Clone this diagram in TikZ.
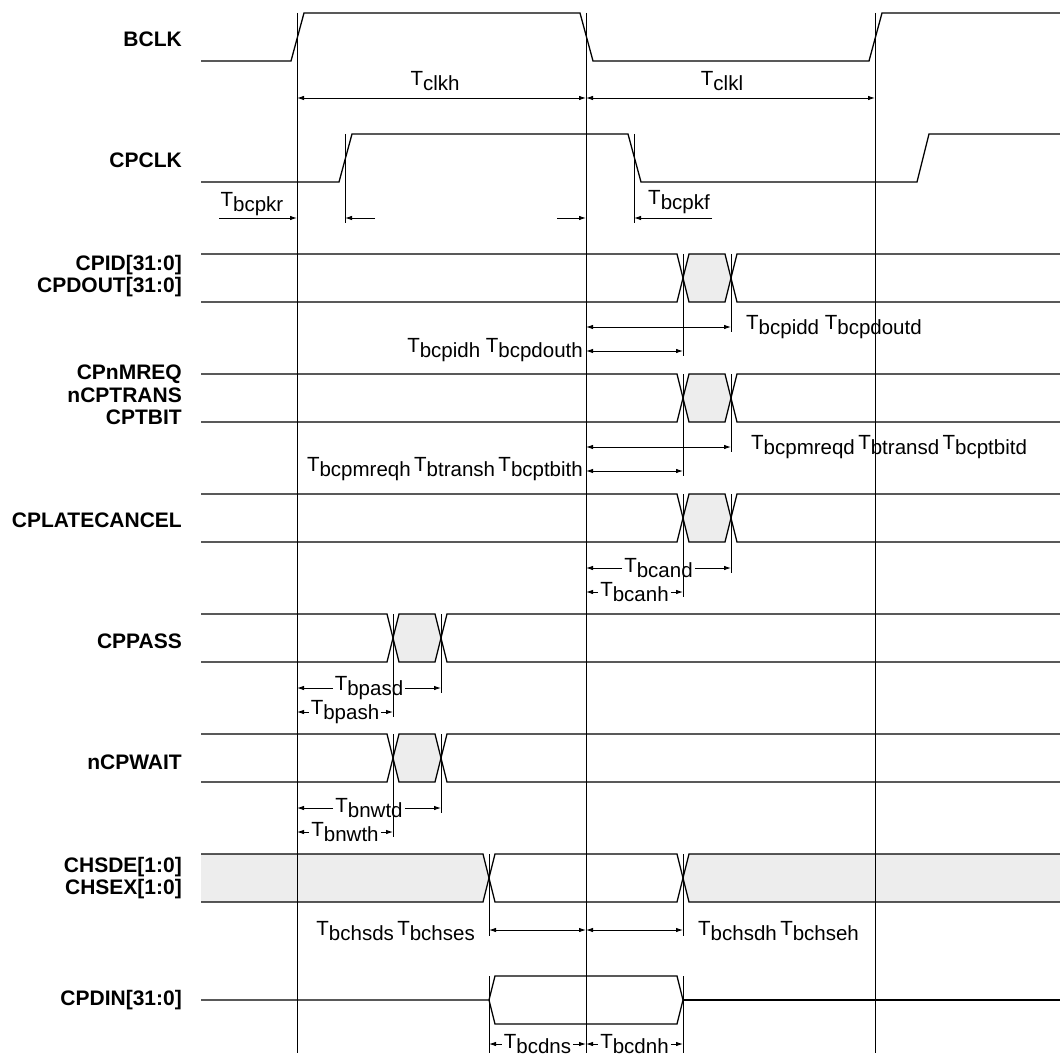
\documentclass[tikz,border=0pt]{standalone}
\usepackage{fontspec}
\setmainfont{Liberation Sans}
\usetikzlibrary{arrows.meta}

% timing symbol: T with lowered suffix
\newcommand{\tsym}[1]{T\raisebox{-5pt}{#1}}
% bus row: top edge y, first and second crossing x
\newcommand{\busrow}[3]{%
  \fill[busfill] (#2,#1+24) -- (#2+6,#1) -- (#3-6,#1) -- (#3,#1+24) -- (#3-6,#1+48) -- (#2+6,#1+48) -- cycle;
  \draw[wave] (201,#1) -- (#2-6,#1) -- (#2+6,#1+48) -- (#3-6,#1+48) -- (#3+6,#1) -- (1060,#1);
  \draw[wave] (201,#1+48) -- (#2-6,#1+48) -- (#2+6,#1) -- (#3-6,#1) -- (#3+6,#1+48) -- (1060,#1+48);
}
% dimension with the label sitting in the line
\newcommand{\splitdim}[5]{%
  \node[tlab] (#4) at ({(#1+#2)/2},#3) {\tsym{#5}};
  \draw[ar] (#4.west) -- (#1,#3);
  \draw[ar] (#4.east) -- (#2,#3);
}

\begin{document}
\begin{tikzpicture}[x=1pt, y=-1pt,
  wave/.style={line width=1.3pt},
  guide/.style={line width=1pt},
  dim/.style={line width=0.9pt, {Latex[length=7pt,width=4.5pt]}-{Latex[length=7pt,width=4.5pt]}},
  ar/.style={line width=0.9pt, -{Latex[length=7pt,width=4.5pt]}},
  sig/.style={anchor=east, align=right, inner sep=0pt, font=\bfseries\fontsize{21}{22.5}\selectfont},
  tlab/.style={inner sep=2pt, font=\fontsize{20.5}{22}\selectfont},
  busfill/.style={fill=gray!14}
]
\useasboundingbox (0,0) rectangle (1060,1059);

% signal names
\node[sig] (bclk) at (182,39) {BCLK};
\node[sig] (cpclk) at (182,160) {CPCLK};
\node[sig] (cpid) at (182,276) {CPID[31:0]\\CPDOUT[31:0]};
\node[sig] (cpmreq) at (182,395) {CPnMREQ\\nCPTRANS\\CPTBIT};
\node[sig] (late) at (182,520) {CPLATECANCEL};
\node[sig] (pass) at (182,641) {CPPASS};
\node[sig] (wait) at (182,762) {nCPWAIT};
\node[sig] (chs) at (182,878) {CHSDE[1:0]\\CHSEX[1:0]};
\node[sig] (din) at (182,1000) {CPDIN[31:0]};

% clocks
\draw[wave] (201,61) -- (291,61) -- (304,13) -- (580,13) -- (593,61) -- (869,61) -- (882,13) -- (1060,13);
\draw[wave] (201,182) -- (339,182) -- (352,134) -- (628,134) -- (641,182) -- (917,182) -- (929,134) -- (1060,134);

% busses
\foreach \y/\a/\b in {254/683/731, 374/683/731, 494/683/731, 614/393/441, 734/393/441}
  {\busrow{\y}{\a}{\b}}

% CHSDE / CHSEX
\fill[busfill] (201,854) -- (483,854) -- (489,878) -- (483,902) -- (201,902) -- cycle;
\fill[busfill] (1060,854) -- (689,854) -- (683,878) -- (689,902) -- (1060,902) -- cycle;
\draw[wave] (201,854) -- (483,854) -- (495,902) -- (677,902) -- (689,854) -- (1060,854);
\draw[wave] (201,902) -- (483,902) -- (495,854) -- (677,854) -- (689,902) -- (1060,902);

% CPDIN
\draw[wave] (201,1000) -- (489,1000) -- (495,976) -- (677,976) -- (683,1000) -- (677,1024) -- (495,1024) -- (489,1000);
\draw[wave] (683,1000) -- (1060,1000);

% clock edges
\foreach \x in {297,586,875}
  \draw[guide] (\x,13) -- (\x,1053);

% clock periods
\draw[dim] (297,98) -- (586,98);
\draw[dim] (586,98) -- (875,98);
\node[tlab] (clkh) at (435,81) {\tsym{clkh}};
\node[tlab] (clkl) at (722,81) {\tsym{clkl}};

% CPCLK skew
\draw[guide] (345,134) -- (345,223);
\draw[guide] (634,134) -- (634,223);
\draw[ar] (219,218) -- (297,218);
\draw[ar] (375,218) -- (345,218);
\draw[ar] (557,218) -- (586,218);
\draw[ar] (712,218) -- (634,218);
\node[tlab] (bcpkr) at (252,204) {\tsym{bcpkr}};
\node[tlab] (bcpkf) at (679,202) {\tsym{bcpkf}};

% CPID and CPnMREQ timings
\foreach \y in {254,374} {
  \draw[guide] (683,\y) -- (683,\y+102);
  \draw[guide] (731,\y) -- (731,\y+78);
  \draw[dim] (586,\y+73) -- (731,\y+73);
  \draw[dim] (586,\y+97) -- (683,\y+97);
}
\node[tlab, anchor=west] (pidd) at (744,327) {\tsym{bcpidd} \tsym{bcpdoutd}};
\node[tlab, anchor=east] (pidh) at (585,350) {\tsym{bcpidh} \tsym{bcpdouth}};
\node[tlab, anchor=west] (mreqd) at (749,447) {\tsym{bcpmreqd}\,\tsym{btransd}\,\tsym{bcptbitd}};
\node[tlab, anchor=east] (mreqh) at (585,469) {\tsym{bcpmreqh}\,\tsym{btransh}\,\tsym{bcptbith}};

% CPLATECANCEL
\draw[guide] (683,494) -- (683,597);
\draw[guide] (731,494) -- (731,573);
\splitdim{586}{731}{568}{cand}{bcand}
\splitdim{586}{683}{592}{canh}{bcanh}

% CPPASS and nCPWAIT
\foreach \y in {614,734} {
  \draw[guide] (393,\y) -- (393,\y+103);
  \draw[guide] (441,\y) -- (441,\y+79);
}
\splitdim{297}{441}{688}{pasd}{bpasd}
\splitdim{297}{393}{712}{pash}{bpash}
\splitdim{297}{441}{808}{nwtd}{bnwtd}
\splitdim{297}{393}{832}{nwth}{bnwth}

% CHSDE setup / hold
\draw[guide] (489,854) -- (489,936);
\draw[guide] (683,854) -- (683,936);
\draw[dim] (489,930) -- (586,930);
\draw[dim] (586,930) -- (683,930);
\node[tlab, anchor=east] (hsds) at (477,931) {\tsym{bchsds}\,\tsym{bchses}};
\node[tlab, anchor=west] (hsdh) at (696,931) {\tsym{bchsdh}\,\tsym{bchseh}};

% CPDIN setup / hold
\draw[guide] (489,976) -- (489,1053);
\draw[guide] (683,976) -- (683,1053);
\splitdim{489}{586}{1044}{cdns}{bcdns}
\splitdim{586}{683}{1044}{cdnh}{bcdnh}
\end{tikzpicture}
\end{document}
